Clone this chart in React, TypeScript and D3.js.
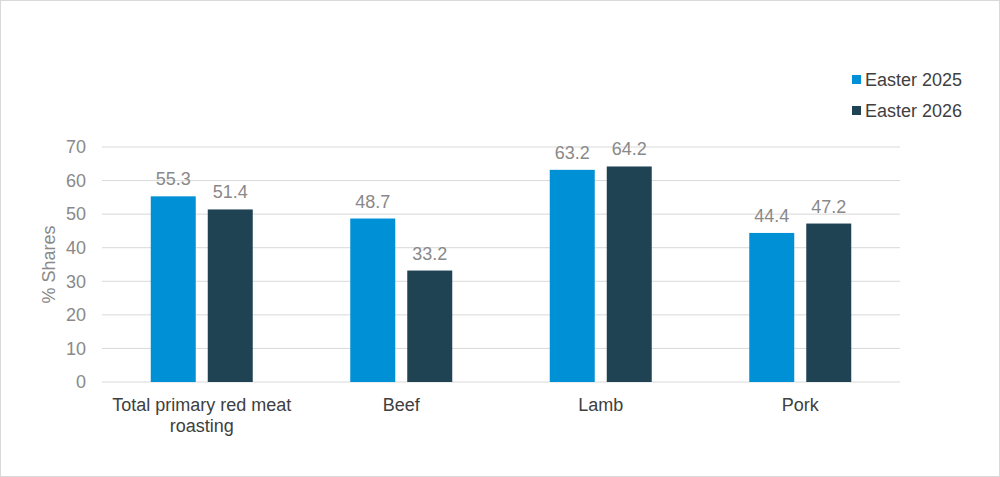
import { useEffect, useRef } from "react"
import * as d3 from "d3"

const categories = ["Total primary red meat|roasting", "Beef", "Lamb", "Pork"]
const series = ["Easter 2025", "Easter 2026"]
const easter2025 = [55.3, 48.7, 63.2, 44.4]
const easter2026 = [51.4, 33.2, 64.2, 47.2]
const yTicks = [0, 10, 20, 30, 40, 50, 60, 70]
const colors = ["#0090d5", "#204354"]

export default function App() {
  const svgRef = useRef<SVGSVGElement>(null)

  useEffect(() => {
    if (!svgRef.current) return
    const svg = d3.select(svgRef.current)
    svg.selectAll("*").remove()

    const W = 1000
    const H = 477
    const margin = { top: 147, right: 100, bottom: 95, left: 102 }
    const width = W - margin.left - margin.right
    const height = H - margin.top - margin.bottom
    const font = "'Liberation Sans', Arial, sans-serif"

    // Outer border
    svg
      .append("rect")
      .attr("x", 0.5)
      .attr("y", 0.5)
      .attr("width", W - 1)
      .attr("height", H - 1)
      .attr("fill", "#fff")
      .attr("stroke", "#d9d9d9")

    const g = svg.append("g").attr("transform", `translate(${margin.left},${margin.top})`)

    const x = d3.scaleBand().domain(categories).range([0, width]).padding(0)
    const y = d3.scaleLinear().domain([0, 70]).range([height, 0])

    // Gridlines
    g.selectAll(".grid")
      .data(yTicks)
      .enter()
      .append("line")
      .attr("x1", 0)
      .attr("x2", width)
      .attr("y1", (d) => y(d))
      .attr("y2", (d) => y(d))
      .attr("stroke", "#d9d9d9")
      .attr("stroke-width", 1)

    // Y tick labels
    g.selectAll(".ytick")
      .data(yTicks)
      .enter()
      .append("text")
      .attr("x", -16)
      .attr("y", (d) => y(d))
      .attr("dy", "0.35em")
      .attr("text-anchor", "end")
      .style("font-family", font)
      .style("font-size", "18px")
      .style("fill", "#898989")
      .text((d) => d)

    // Y axis title
    g.append("text")
      .attr("transform", "rotate(-90)")
      .attr("x", -height / 2)
      .attr("y", -margin.left + 55)
      .attr("text-anchor", "middle")
      .style("font-family", font)
      .style("font-size", "18px")
      .style("fill", "#898989")
      .text("% Shares")

    const barW = 45
    const gap = 12
    const allSeries = [easter2025, easter2026]

    allSeries.forEach((vals, si) => {
      const offset = si === 0 ? -gap / 2 - barW : gap / 2
      g.selectAll(`.bar-${si}`)
        .data(vals)
        .enter()
        .append("rect")
        .attr("x", (_, i) => (x(categories[i]) as number) + x.bandwidth() / 2 + offset)
        .attr("width", barW)
        .attr("y", (d) => y(d))
        .attr("height", (d) => height - y(d))
        .attr("fill", colors[si])

      g.selectAll(`.label-${si}`)
        .data(vals)
        .enter()
        .append("text")
        .attr("x", (_, i) => (x(categories[i]) as number) + x.bandwidth() / 2 + offset + barW / 2)
        .attr("y", (d) => y(d) - 11)
        .attr("text-anchor", "middle")
        .style("font-family", font)
        .style("font-size", "18px")
        .style("fill", "#898989")
        .text((d) => d.toFixed(1))
    })

    // Category labels
    categories.forEach((c) => {
      const lines = c.split("|")
      const cx = (x(c) as number) + x.bandwidth() / 2
      const t = g
        .append("text")
        .attr("x", cx)
        .attr("y", height + 29)
        .attr("text-anchor", "middle")
        .style("font-family", font)
        .style("font-size", "18px")
        .style("fill", "#404040")
      lines.forEach((l, i) => {
        t.append("tspan")
          .attr("x", cx)
          .attr("dy", i === 0 ? 0 : 21)
          .text(l)
      })
    })

    // Legend
    const legend = svg.append("g").attr("transform", "translate(852,75)")
    series.forEach((s, i) => {
      legend
        .append("rect")
        .attr("x", 0)
        .attr("y", i * 31)
        .attr("width", 9)
        .attr("height", 9)
        .attr("fill", colors[i])
      legend
        .append("text")
        .attr("x", 13)
        .attr("y", i * 31 + 11)
        .style("font-family", font)
        .style("font-size", "18px")
        .style("fill", "#404040")
        .text(s)
    })
  }, [])

  return (
    <svg
      ref={svgRef}
      width={1000}
      height={477}
      style={{ position: "absolute", left: 0, top: 0 }}
    ></svg>
  )
}
